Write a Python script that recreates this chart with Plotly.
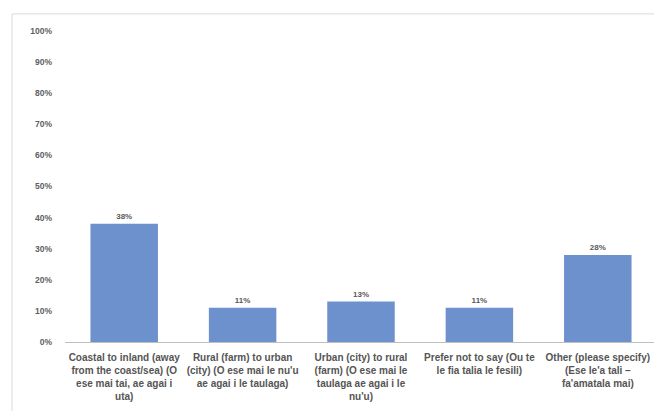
import plotly.graph_objects as go

categories = [
    "Coastal to inland (away<br>from the coast/sea) (O<br>ese mai tai, ae agai i<br>uta)",
    "Rural (farm) to urban<br>(city) (O ese mai le nu'u<br>ae agai i le taulaga)",
    "Urban (city) to rural<br>(farm) (O ese mai le<br>taulaga ae agai i le<br>nu'u)",
    "Prefer not to say (Ou te<br>le fia talia le fesili)",
    "Other (please specify)<br>(Ese le'a tali –<br>fa'amatala mai)",
]
values = [0.38, 0.11, 0.13, 0.11, 0.28]
value_labels = ["38%", "11%", "13%", "11%", "28%"]
y_ticks = [i / 10 for i in range(11)]
y_tick_labels = [f"{i*10}%" for i in range(11)]

fig = go.Figure(go.Bar(
    x=categories, y=values,
    marker=dict(color="#6d91cc", line=dict(width=0)),
    text=value_labels, textposition="outside",
    textfont=dict(size=8, color="#595959", family="Liberation Sans", weight="bold"),
    cliponaxis=False,
))

fig.update_layout(
    width=654, height=403,
    margin=dict(l=57, r=5, t=23, b=69),
    paper_bgcolor="white", plot_bgcolor="white",
    bargap=0.43,
    showlegend=False,
    font=dict(family="Liberation Sans", size=7, color="#595959"),
    xaxis=dict(showgrid=False, showline=True, linecolor="#bfbfbf", linewidth=1,
               tickfont=dict(size=10, color="#555555", weight="bold"), ticks="", ticklen=0,
               tickangle=0, automargin=False, ticklabelstandoff=6),
    yaxis=dict(range=[0, 1], tickvals=y_ticks, ticktext=y_tick_labels,
               showgrid=False, zeroline=False, showline=False, automargin=False,
               tickfont=dict(size=8.5, color="#606060", weight="bold"), ticklabelstandoff=12),
    shapes=[dict(type="rect", xref="paper", yref="paper",
                 x0=-0.0895, x1=1.1, y0=-0.3, y1=1.055,
                 line=dict(color="#d9d9d9", width=1), fillcolor="rgba(0,0,0,0)", layer="below")],
)

fig.write_html("out.html")
